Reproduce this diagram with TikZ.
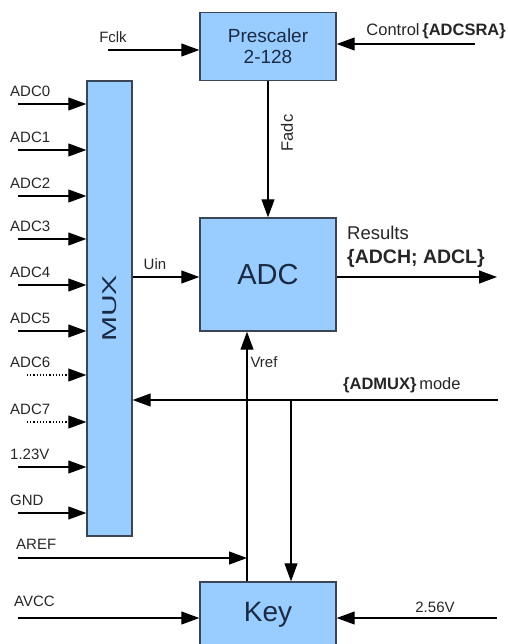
\documentclass[tikz,border=0pt]{standalone}
\usepackage{fontspec}
\setmainfont{Liberation Sans}
\usetikzlibrary{arrows.meta}
\definecolor{boxblue}{HTML}{99CCFF}
\definecolor{boxedge}{HTML}{3A4656}
\definecolor{boxtext}{HTML}{1B2A44}

\begin{document}
\begin{tikzpicture}[x=1pt,y=-1pt,
  blk/.style={draw=boxedge, line width=1.4pt, fill=boxblue, text=boxtext, inner sep=0pt},
  sig/.style={line width=1.1pt, -{Triangle[length=18pt,width=13pt]}},
  dots/.style={dash pattern=on 1.2pt off 2pt},
  lbl/.style={font=\fontsize{15}{17}\selectfont, inner sep=0pt, text=black!85},
  mid/.style={font=\fontsize{16.5}{18}\selectfont, inner sep=0pt, text=black!85},
  big/.style={font=\fontsize{18.5}{20}\selectfont, inner sep=0pt, text=black!85}]

\useasboundingbox (0,0) rectangle (507,644);
\clip (0,0) rectangle (507,644);

\node[blk, minimum width=136pt, minimum height=68pt, align=center,
  font=\fontsize{19}{21}\selectfont] (pre) at (268,46.5) {Prescaler\\2-128};
\node[blk, minimum width=45pt, minimum height=455pt] (mux) at (109.5,308.5) {};
\node[boxtext, rotate=90, font=\fontsize{20}{20}\selectfont] (muxtxt) at (mux) {\scalebox{1.5}[1]{MUX}};
\node[blk, minimum width=136pt, minimum height=113pt, font=\fontsize{29}{30}\selectfont] (adc) at (268,274.5) {ADC};
\node[blk, minimum width=136pt, minimum height=66pt, font=\fontsize{28}{30}\selectfont] (key) at (268,615) {Key};

\coordinate (fclk) at (108,50);
\coordinate (ctrl) at (475,44);
\draw[sig] (fclk) -- (fclk -| pre.west);
\draw[sig] (ctrl) -- (ctrl -| pre.east);
\node[lbl] (fclktxt) at (113,37) {Fclk};
\node[mid, anchor=east] (ctrltxt) at (506,31) {Control\,{\bfseries\{ADCSRA\}}};

\foreach \id/\name/\y in {0/ADC0/104, 1/ADC1/150, 2/ADC2/196, 3/ADC3/239, 4/ADC4/285, 5/ADC5/331, 8/1.23V/467, 9/GND/513}{
  \coordinate (in\id) at (18,\y);
  \draw[sig] (in\id) -- (in\id -| mux.west);
  \node[lbl, anchor=west] (txt\id) at (10,\y-13) {\name};
}
\foreach \id/\name/\y in {6/ADC6/375, 7/ADC7/422}{
  \coordinate (in\id) at (27,\y);
  \draw[sig, dots] (in\id) -- (in\id -| mux.west);
  \node[lbl, anchor=west] (txt\id) at (10,\y-13) {\name};
}

\draw[sig] (pre.south) -- (adc.north);
\node[mid, rotate=90] (fadc) at (287,133) {Fadc};

\coordinate (uin) at (0,277);
\draw[sig] (uin -| mux.east) -- (uin -| adc.west);
\node[lbl] (uintxt) at (155,264) {Uin};

\coordinate (res) at (497,277);
\draw[sig] (res -| adc.east) -- (res);
\node[big, anchor=west] (restxt) at (347,233) {Results};
\node[big, anchor=west, font=\fontsize{19.5}{21}\selectfont\bfseries] (regtxt) at (347,258) {\{ADCH; ADCL\}};

\coordinate (vr) at (247,0);
\draw[sig] (vr |- key.north) -- (vr |- adc.south);
\node[lbl] (vreftxt) at (264,362) {Vref};

\coordinate (aref) at (18,558);
\draw[sig] (aref) -- (aref -| vr);
\node[lbl, anchor=west] (areftxt) at (16,544) {AREF};

\coordinate (admux) at (498,400);
\coordinate (br) at (291,400);
\draw[sig] (admux) -- (admux -| mux.east);
\draw[sig] (br) -- (br |- key.north);
\node[mid, anchor=west] (admuxtxt) at (343,385) {{\bfseries\{ADMUX\}}\,mode};

\coordinate (avcc) at (18,618);
\coordinate (v256) at (497,618);
\draw[sig] (avcc) -- (avcc -| key.west);
\draw[sig] (v256) -- (v256 -| key.east);
\node[lbl, anchor=west] (avcctxt) at (14,601) {AVCC};
\node[lbl] (v256txt) at (435,607) {2.56V};
\end{tikzpicture}
\end{document}
